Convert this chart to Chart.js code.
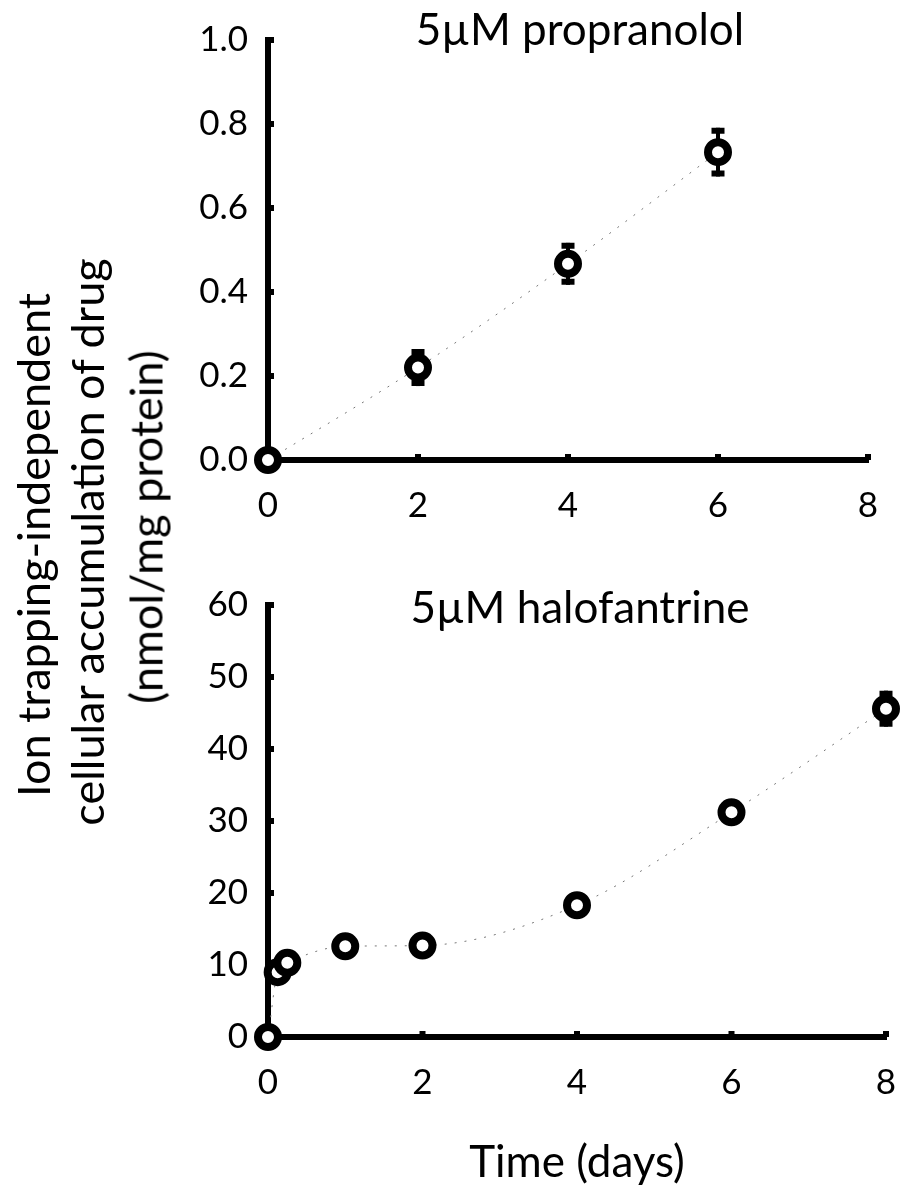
<!DOCTYPE html>
<html lang="en">
<head>
    <meta charset="UTF-8">
    <title>Ion trapping-independent accumulation</title>
    <script src="https://cdn.jsdelivr.net/npm/chart.js"></script>
    <style>
        body {
            margin: 0;
            padding: 0;
            background: white;
            font-family: 'Lato', sans-serif;
            color: #000;
        }

        .page {
            position: relative;
            width: 904px;
            height: 1192px;
            overflow: hidden;
        }

        canvas {
            position: absolute;
            left: 0;
        }

        .panel-title {
            position: absolute;
            font-size: 44px;
            line-height: 44px;
            white-space: nowrap;
            transform: translateX(-50%);
        }

        .y-title {
            position: absolute;
            font-size: 45px;
            line-height: 45px;
            white-space: nowrap;
            transform: translate(-50%, -50%) rotate(-90deg);
        }
    </style>
</head>
<body>

<div class="page">
    <canvas id="propChart" width="904" height="540" style="top:0"></canvas>
    <canvas id="haloChart" width="904" height="632" style="top:560px"></canvas>

    <div class="panel-title" style="left:580px; top:6px">5µM propranolol</div>
    <div class="panel-title" style="left:580px; top:584px">5µM halofantrine</div>

    <div class="y-title" style="left:33px; top:545px">Ion trapping-independent</div>
    <div class="y-title" style="left:87px; top:542px">cellular accumulation of drug</div>
    <div class="y-title" style="left:146px; top:527px">(nmol/mg protein)</div>
</div>

<script>
    // propranolol, 5 µM
    const propDays = [0, 2, 4, 6];
    const propUptake = [0, 0.22, 0.467, 0.733];
    const propErr = [0, 0.044, 0.05, 0.058];
    const propTicksY = [0, 0.2, 0.4, 0.6, 0.8, 1.0];

    // halofantrine, 5 µM
    const haloDays = [0, 0.125, 0.25, 1, 2, 4, 6, 8];
    const haloUptake = [0, 9.0, 10.3, 12.6, 12.7, 18.3, 31.2, 45.6];
    const haloErr = [0, 0.5, 0.5, 0.6, 0.6, 0.8, 1.0, 2.5];
    const haloTicksY = [0, 10, 20, 30, 40, 50, 60];

    const dayTicks = [0, 2, 4, 6, 8];

    const FONT = 'Lato';

    function toPoints(xs, ys) {
        return xs.map((x, i) => ({ x: x, y: ys[i] }));
    }

    // vertical error bars with caps, drawn under the markers
    const errorBars = {
        id: 'errorBars',
        beforeDatasetsDraw(chart) {
            const ctx = chart.ctx;
            const xs = chart.scales.x;
            const ys = chart.scales.y;
            chart.data.datasets.forEach(ds => {
                if (!ds.errorValues) return;
                ds.data.forEach((p, i) => {
                    const err = ds.errorValues[i];
                    if (!err) return;
                    const px = xs.getPixelForValue(p.x);
                    const top = ys.getPixelForValue(p.y + err);
                    const bot = ys.getPixelForValue(p.y - err);
                    ctx.save();
                    ctx.strokeStyle = '#000';
                    ctx.lineWidth = 4;
                    ctx.beginPath();
                    ctx.moveTo(px, top);
                    ctx.lineTo(px, bot);
                    ctx.stroke();
                    ctx.lineWidth = 6;
                    ctx.beginPath();
                    ctx.moveTo(px - 6.5, top + 3);
                    ctx.lineTo(px + 6.5, top + 3);
                    ctx.moveTo(px - 6.5, bot - 3);
                    ctx.lineTo(px + 6.5, bot - 3);
                    ctx.stroke();
                    ctx.restore();
                });
            });
        }
    };

    // short tick marks on the inner side of both axes
    const innerTicks = {
        id: 'innerTicks',
        beforeDatasetsDraw(chart) {
            const ctx = chart.ctx;
            const area = chart.chartArea;
            ctx.save();
            ctx.strokeStyle = '#000';
            ctx.lineWidth = 6;
            ctx.beginPath();
            chart.scales.y.ticks.forEach(t => {
                const py = chart.scales.y.getPixelForValue(t.value);
                ctx.moveTo(area.left, py);
                ctx.lineTo(area.left + 6, py);
            });
            chart.scales.x.ticks.forEach(t => {
                const px = chart.scales.x.getPixelForValue(t.value);
                ctx.moveTo(px, area.bottom);
                ctx.lineTo(px, area.bottom - 6);
            });
            ctx.stroke();
            ctx.restore();
        }
    };

    function makeChart(id, cfg) {
        return new Chart(document.getElementById(id), {
            type: 'line',
            data: {
                datasets: [{
                    data: toPoints(cfg.days, cfg.values),
                    errorValues: cfg.errors,
                    borderColor: '#777',
                    borderWidth: 1,
                    borderDash: [2, 8],
                    cubicInterpolationMode: 'monotone',
                    pointRadius: 10,
                    pointHoverRadius: 10,
                    pointBorderWidth: 8,
                    pointHoverBorderWidth: 8,
                    pointBorderColor: '#000',
                    pointBackgroundColor: '#fff',
                    clip: false
                }]
            },
            options: {
                responsive: false,
                animation: false,
                events: [],
                layout: { padding: cfg.padding },
                plugins: {
                    legend: { display: false },
                    tooltip: { enabled: false }
                },
                scales: {
                    x: {
                        type: 'linear',
                        min: 0,
                        max: 8,
                        afterBuildTicks: s => { s.ticks = dayTicks.map(v => ({ value: v })); },
                        afterFit: s => {
                            s.height = cfg.xHeight;
                            s.paddingLeft = 0;
                            s.paddingRight = 0;
                        },
                        grid: { display: false, drawTicks: false },
                        border: { display: true, width: 6, color: '#000' },
                        ticks: { color: '#000', padding: 25, font: { family: FONT, size: 35 } },
                        title: cfg.xTitle ? {
                            display: true,
                            text: cfg.xTitle,
                            color: '#000',
                            padding: { top: 0, bottom: 3 },
                            font: { family: FONT, size: 44 }
                        } : { display: false }
                    },
                    y: {
                        min: 0,
                        max: cfg.ticksY[cfg.ticksY.length - 1],
                        afterBuildTicks: s => { s.ticks = cfg.ticksY.map(v => ({ value: v })); },
                        afterFit: s => {
                            s.width = 268 - cfg.padding.left;
                            s.paddingTop = 0;
                            s.paddingBottom = 0;
                        },
                        grid: { display: false, drawTicks: false },
                        border: { display: true, width: 6, color: '#000' },
                        ticks: {
                            color: '#000',
                            padding: 20,
                            font: { family: FONT, size: 35 },
                            callback: v => cfg.fmt(v)
                        }
                    }
                }
            },
            plugins: [errorBars, innerTicks]
        });
    }

    makeChart('propChart', {
        days: propDays,
        values: propUptake,
        errors: propErr,
        ticksY: propTicksY,
        fmt: v => v.toFixed(1),
        padding: { top: 40, right: 36, bottom: 0, left: 0 },
        xHeight: 80
    });

    makeChart('haloChart', {
        days: haloDays,
        values: haloUptake,
        errors: haloErr,
        ticksY: haloTicksY,
        fmt: v => String(v),
        padding: { top: 45, right: 16, bottom: 0, left: 0 },
        xHeight: 155,
        xTitle: 'Time (days)'
    });
</script>

</body>
</html>
